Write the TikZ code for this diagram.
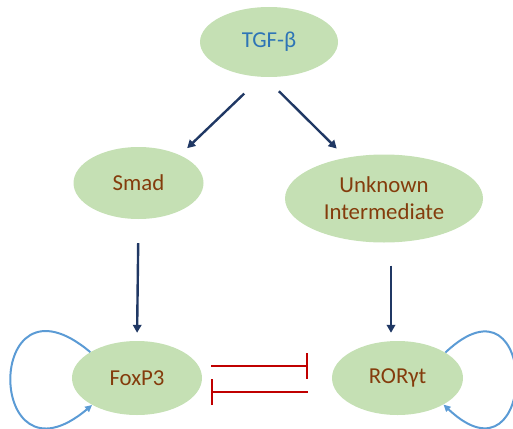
\documentclass[tikz,border=0pt]{standalone}
\usepackage{fontspec}
\setmainfont{Carlito}
\usepackage{tikz}
\usetikzlibrary{
    arrows.meta,
    shapes.geometric
}
\definecolor{nodegreen}{HTML}{C5E0B4}
\definecolor{arrownavy}{HTML}{203864}
\definecolor{inhibitred}{HTML}{C00000}
\definecolor{loopblue}{HTML}{5B9BD5}
\definecolor{textbrown}{HTML}{843C0C}
\definecolor{textblue}{HTML}{2E75B6}
\tikzset{
    arrow/.style = {
        draw = arrownavy,
        line width = 2.4pt,
        -{Triangle[length=8pt, width=8.5pt]}
    },
    % Inhibition (flat head):
    inhibit/.style = {
        draw = inhibitred,
        line width = 2pt
    },
    % Self-regulation:
    loop line/.style = {
        draw = loopblue,
        line width = 2pt,
        -{Triangle[length=7pt, width=6.5pt]}
    },
    % Factor:
    gene node/.style = {
        ellipse,
        fill = nodegreen,
        inner sep = 0pt,
        align = center,
        text = textbrown,
        font = \fontsize{22.8}{27}\selectfont
    }
}

\begin{document}
\begin{tikzpicture}[x=1pt, y=-1pt]
    \useasboundingbox (0, 0) rectangle (513, 428);
    \node [gene node, minimum width=138pt, minimum height=70pt, text=textblue] (tgf) at (269, 42) {TGF-β};
    \node [gene node, minimum width=130pt, minimum height=72pt] (smad) at (138.5, 183) {Smad};
    \node [gene node, minimum width=198pt, minimum height=88pt] (unk) at (384, 198.5) {Unknown\\Intermediate};
    \node [gene node, minimum width=130pt, minimum height=74pt] (fox) at (137, 378) {FoxP3};
    \node [gene node, minimum width=131pt, minimum height=74pt] (ror) at (397.5, 378) {RORγt};
    \draw [arrow, shorten <=24pt, shorten >=10pt] (tgf.258) -- (smad.34);
    \draw [arrow, shorten <=20pt, shorten >=13pt] (tgf.263) -- (unk.133);
    \draw [arrow, shorten <=24pt, shorten >=8pt] (smad.south) -- (fox.north);
    \draw [arrow, shorten <=23pt, shorten >=8pt]
        ([xshift=7pt]unk.south) -- ([xshift=-6.5pt]ror.north);
    % Mutual inhibition
    \draw [inhibit, -{Bar[width=26pt]}, shorten <=9pt, shorten >=24pt]
        ([yshift=12pt]fox.east) -- ([yshift=12pt]ror.west);
    \draw [inhibit, -{Bar[width=26pt]}, shorten <=24pt, shorten >=9pt]
        ([yshift=-14pt]ror.west) -- ([yshift=-14pt]fox.east);
    % Self-loops
    \draw [loop line] (fox.151) .. controls +(-107, -90) and +(-107, 90) .. (fox.211);
    \draw [loop line] (ror.28) .. controls +(95, -90) and +(95, 90) .. (ror.-30);
\end{tikzpicture}
\end{document}
